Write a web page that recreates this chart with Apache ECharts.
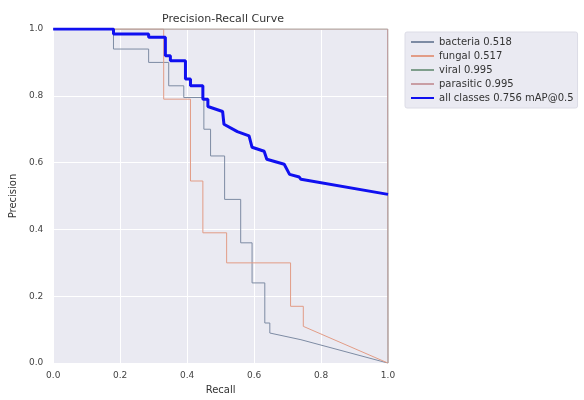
<!DOCTYPE html>
<html>
<head>
<meta charset="utf-8">
<script src="https://cdn.jsdelivr.net/npm/echarts@6/dist/echarts.min.js"></script>
<style>
  html, body { margin: 0; padding: 0; background: #fff; }
  #main { width: 584px; height: 400px; }
</style>
</head>
<body>
<div id="main"></div>
<script>
// precision-recall points [recall, precision]
var bacteria = [
    [0, 1.0], [0.18, 1.0], [0.18, 0.94], [0.285, 0.94], [0.285, 0.90],
    [0.345, 0.90], [0.345, 0.83], [0.39, 0.83], [0.39, 0.795], [0.45, 0.795],
    [0.45, 0.70], [0.47, 0.70], [0.47, 0.62], [0.512, 0.62], [0.512, 0.49],
    [0.56, 0.49], [0.56, 0.36], [0.594, 0.36], [0.594, 0.24], [0.632, 0.24],
    [0.632, 0.12], [0.647, 0.12], [0.647, 0.09], [0.74, 0.07], [1.0, 0.0]
];
var fungal = [
    [0, 1.0], [0.33, 1.0], [0.33, 0.79], [0.41, 0.79], [0.41, 0.545],
    [0.447, 0.545], [0.447, 0.39], [0.518, 0.39], [0.518, 0.30], [0.709, 0.30],
    [0.709, 0.17], [0.747, 0.17], [0.747, 0.11], [1.0, 0.0]
];
var viral = [[0, 1.0], [0.999, 1.0], [1.0, 0.0]];
var parasitic = [[0, 1.0], [0.999, 1.0], [1.0, 0.0]];
var allClasses = [
    [0, 1.0], [0.18, 1.0], [0.18, 0.985], [0.285, 0.985], [0.285, 0.975],
    [0.335, 0.975], [0.335, 0.92], [0.35, 0.92], [0.35, 0.905], [0.395, 0.905],
    [0.395, 0.85], [0.41, 0.85], [0.41, 0.83], [0.447, 0.83], [0.447, 0.79],
    [0.462, 0.79], [0.462, 0.768], [0.506, 0.753], [0.51, 0.715], [0.55, 0.693],
    [0.585, 0.68], [0.594, 0.646], [0.63, 0.634], [0.638, 0.61], [0.69, 0.595],
    [0.706, 0.565], [0.735, 0.557], [0.74, 0.55], [1.0, 0.505]
];

var seriesNames = ['bacteria 0.518', 'fungal 0.517', 'viral 0.995', 'parasitic 0.995', 'all classes 0.756 mAP@0.5'];
var seriesData = [bacteria, fungal, viral, parasitic, allClasses];
var seriesColors = ['#7d8ba3', '#e29c86', '#7f9e8c', '#c99ea4', '#1010f0'];
var seriesWidths = [1, 1, 1, 1, 3];

var font = 'DejaVu Sans';

var series = seriesData.map(function (d, i) {
    return {
        name: seriesNames[i],
        type: 'line',
        data: d,
        showSymbol: false,
        symbol: 'none',
        animation: false,
        z: i === 4 ? 5 : 2,
        lineStyle: { color: seriesColors[i], width: seriesWidths[i] },
        itemStyle: { color: seriesColors[i] }
    };
});

var chart = echarts.init(document.getElementById('main'));
chart.setOption({
    animation: false,
    title: {
        text: 'Precision-Recall Curve',
        left: 218,
        textAlign: 'center',
        top: 9,
        textStyle: { fontFamily: font, fontSize: 11, fontWeight: 'normal', color: '#333' }
    },
    legend: {
        orient: 'vertical',
        left: 405,
        top: 32,
        itemWidth: 23,
        itemHeight: 10,
        itemGap: 4,
        padding: [5, 4, 5, 5],
        backgroundColor: '#EAEAF2',
        borderColor: '#dcdce6',
        borderWidth: 1,
        borderRadius: 2,
        itemStyle: { opacity: 0 },
        textStyle: { fontFamily: font, fontSize: 10, color: '#333' },
        data: seriesNames
    },
    grid: {
        left: 48, right: 196, top: 29, bottom: 35,
        show: true, backgroundColor: '#EAEAF2', borderWidth: 0
    },
    xAxis: {
        type: 'value', min: 0, max: 1, interval: 0.2,
        name: 'Recall', nameLocation: 'middle', nameGap: 20,
        nameTextStyle: { fontFamily: font, fontSize: 10, color: '#333' },
        axisLine: { show: false }, axisTick: { show: false },
        axisLabel: {
            fontFamily: font, fontSize: 9, color: '#444', margin: 8,
            formatter: function (v) { return v.toFixed(1); }
        },
        splitLine: { show: true, lineStyle: { color: '#ffffff', width: 1 } }
    },
    yAxis: {
        type: 'value', min: 0, max: 1, interval: 0.2,
        name: 'Precision', nameLocation: 'middle', nameGap: 31,
        nameTextStyle: { fontFamily: font, fontSize: 10, color: '#333' },
        axisLine: { show: false }, axisTick: { show: false },
        axisLabel: {
            fontFamily: font, fontSize: 9, color: '#444', margin: 10,
            formatter: function (v) { return v.toFixed(1); }
        },
        splitLine: { show: true, lineStyle: { color: '#ffffff', width: 1 } }
    },
    series: series
});
</script>
</body>
</html>
